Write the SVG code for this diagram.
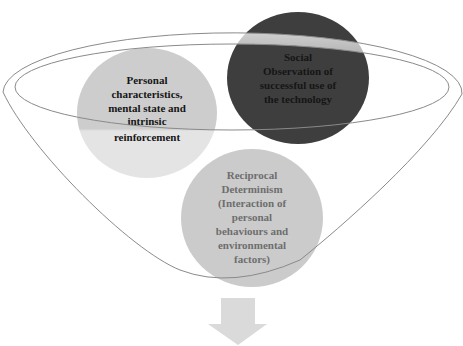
<svg xmlns="http://www.w3.org/2000/svg" width="463" height="346" viewBox="0 0 463 346">
<style>
.lbl{font-family:"Liberation Serif","Times New Roman",serif;font-weight:bold;font-size:11px;text-anchor:middle}
.line{fill:none;stroke:#8a8a8a;stroke-width:1}
.dk{fill:#151515}
</style>
<defs>
<linearGradient id="band" x1="0" y1="0" x2="0" y2="1">
<stop offset="0" stop-color="#ffffff" stop-opacity="0.75"/>
<stop offset="1" stop-color="#ffffff" stop-opacity="0.35"/>
</linearGradient>
<linearGradient id="pers" gradientUnits="userSpaceOnUse" x1="0" y1="48" x2="0" y2="178">
<stop offset="0" stop-color="#cdcdcd"/>
<stop offset="0.62" stop-color="#cdcdcd"/>
<stop offset="0.64" stop-color="#e4e4e4"/>
<stop offset="1" stop-color="#e4e4e4"/>
</linearGradient>
</defs>
<rect width="463" height="346" fill="#ffffff"/>
<g id="funnel">
<path d="M15,87 L3,92 C30,150 130,250 180,270 Q232,290 300,260 C340,228 430,150 462,94 L449,87 A217 43 0 0 1 15 87 Z" fill="#ffffff"/>
</g>
<g id="node-personal">
<ellipse cx="147" cy="113" rx="70" ry="65" fill="url(#pers)"/>
<text class="lbl dk"><tspan x="147" y="84">Personal</tspan><tspan x="147" y="98">characteristics,</tspan><tspan x="147" y="112">mental state and</tspan><tspan x="147" y="125">intrinsic</tspan><tspan x="147" y="141">reinforcement</tspan></text>
</g>
<g id="node-reciprocal">
<ellipse cx="252" cy="218" rx="71" ry="69" fill="#cbcbcb"/>
<text class="lbl" style="fill:#6e6e6e"><tspan x="252" y="179">Reciprocal</tspan><tspan x="252" y="193">Determinism</tspan><tspan x="252" y="207">(Interaction of</tspan><tspan x="252" y="221">personal</tspan><tspan x="252" y="235">behaviours and</tspan><tspan x="252" y="249">environmental</tspan><tspan x="252" y="263">factors)</tspan></text>
</g>
<g id="node-social">
<ellipse cx="298" cy="78" rx="71" ry="66" fill="#3e3e3e"/>
<text class="lbl dk"><tspan x="298" y="61">Social</tspan><tspan x="298" y="75">Observation of</tspan><tspan x="298" y="89">successful use of</tspan><tspan x="298" y="103">the technology</tspan></text>
</g>
<g id="funnel-outline">
<path d="M3,92 A229 60 0 0 1 462 94 L449,87 A217 43 0 0 0 15 87 Z" fill="url(#band)"/>
<path class="line" d="M3,92 A229 60 0 0 1 462 94"/>
<ellipse class="line" cx="232" cy="87" rx="217" ry="43"/>
<path class="line" d="M3,92 C30,150 130,250 180,270 Q232,290 300,260 C340,228 430,150 462,94" stroke="#777"/>
</g>
<g id="arrow">
<path d="M221,298 L255,298 L255,324 L267,324 L238,345 L208,324 L221,324 Z" fill="#dadada"/>
</g>
</svg>
